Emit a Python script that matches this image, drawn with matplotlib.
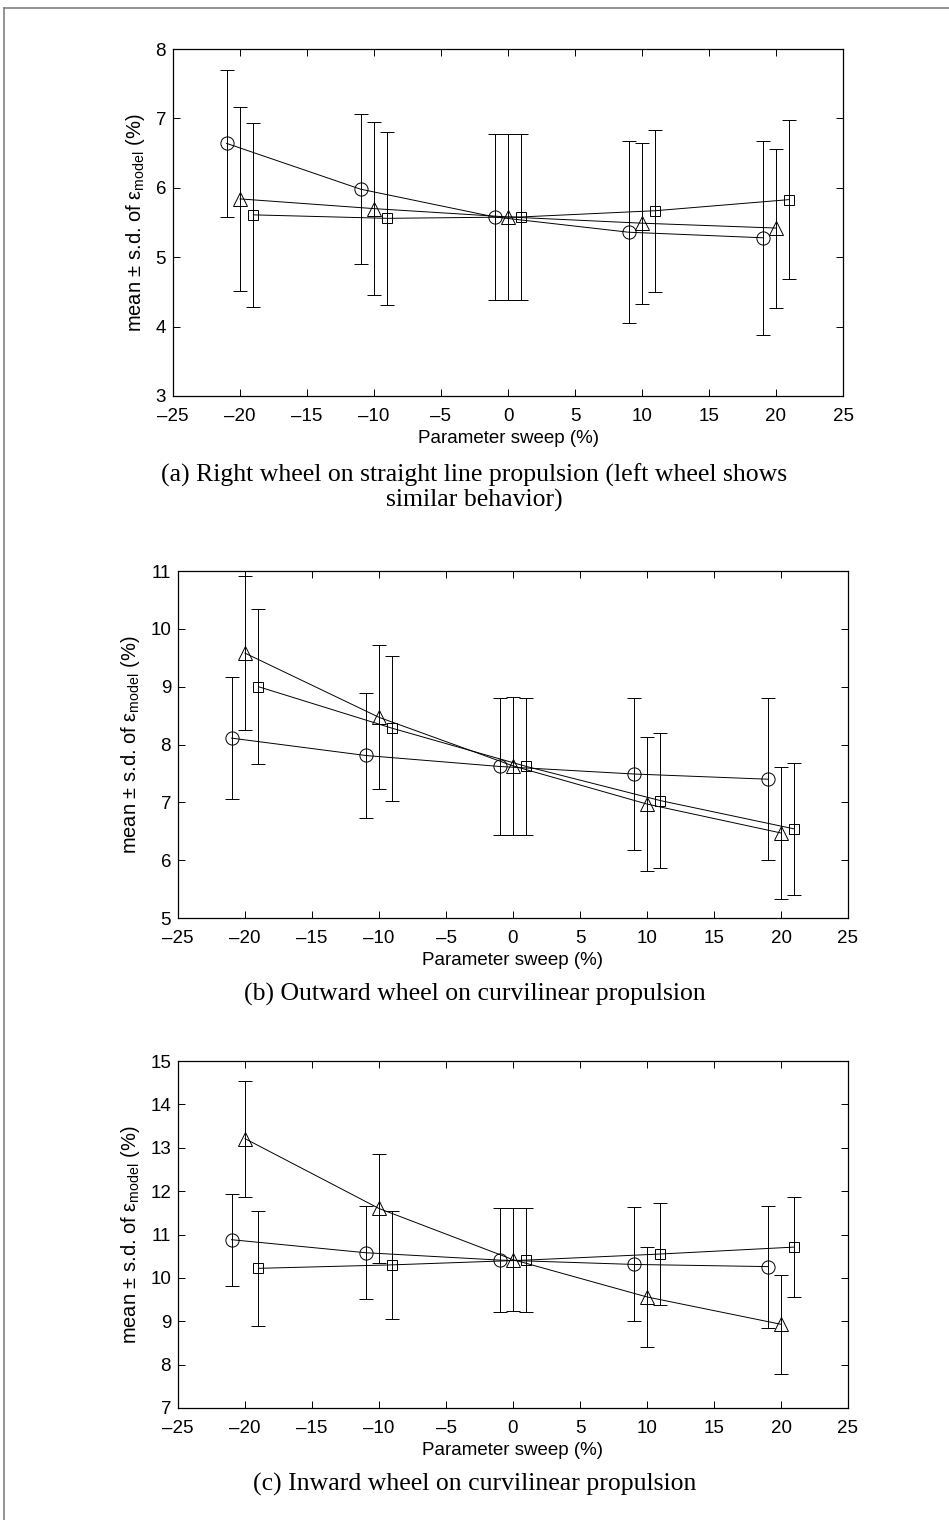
import matplotlib.pyplot as plt
import numpy as np

plt.rcParams['font.family'] = ['Liberation Sans', 'DejaVu Sans']
plt.rcParams['mathtext.fontset'] = 'custom'
plt.rcParams['mathtext.rm'] = 'Liberation Sans'
plt.rcParams['mathtext.it'] = 'Liberation Sans'

# parameter sweep positions (offset by -1 / 0 / +1 for each series)
x_circ = [-21, -11, -1, 9, 19]
x_tri = [-20, -10, 0, 10, 20]
x_sq = [-19, -9, 1, 11, 21]

# (a) right wheel, straight line
a_circ = [6.64, 5.98, 5.58, 5.36, 5.28]
a_circ_sd = [1.06, 1.08, 1.195, 1.31, 1.40]
a_tri = [5.84, 5.70, 5.58, 5.49, 5.42]
a_tri_sd = [1.33, 1.25, 1.195, 1.16, 1.145]
a_sq = [5.61, 5.56, 5.58, 5.67, 5.83]
a_sq_sd = [1.33, 1.245, 1.195, 1.165, 1.145]

# (b) outward wheel, curvilinear
b_circ = [8.11, 7.81, 7.62, 7.49, 7.40]
b_circ_sd = [1.06, 1.08, 1.19, 1.315, 1.40]
b_tri = [9.58, 8.47, 7.63, 6.97, 6.47]
b_tri_sd = [1.33, 1.245, 1.19, 1.165, 1.145]
b_sq = [9.00, 8.28, 7.62, 7.03, 6.54]
b_sq_sd = [1.335, 1.25, 1.19, 1.165, 1.14]

# (c) inward wheel, curvilinear
c_circ = [10.88, 10.58, 10.41, 10.31, 10.26]
c_circ_sd = [1.065, 1.075, 1.195, 1.315, 1.405]
c_tri = [13.21, 11.60, 10.42, 9.56, 8.93]
c_tri_sd = [1.335, 1.25, 1.195, 1.16, 1.14]
c_sq = [10.22, 10.30, 10.41, 10.55, 10.71]
c_sq_sd = [1.33, 1.245, 1.195, 1.165, 1.145]

panels = [
    (a_circ, a_circ_sd, a_tri, a_tri_sd, a_sq, a_sq_sd, (3, 8)),
    (b_circ, b_circ_sd, b_tri, b_tri_sd, b_sq, b_sq_sd, (5, 11)),
    (c_circ, c_circ_sd, c_tri, c_tri_sd, c_sq, c_sq_sd, (7, 15)),
]
captions = [
    '(a) Right wheel on straight line propulsion (left wheel shows\nsimilar behavior)',
    '(b) Outward wheel on curvilinear propulsion',
    '(c) Inward wheel on curvilinear propulsion',
]
# axes boxes in pixels: left, top, right, bottom
boxes = [(173, 49, 843, 396), (178, 571, 848, 918), (178, 1061, 848, 1408)]
caption_y = [488, 994, 1484]

W, H = 949, 1520
fig = plt.figure(figsize=(W / 100, H / 100), dpi=100)

for p, box, cap, cy in zip(panels, boxes, captions, caption_y):
    l, t, r, b = box
    ax = fig.add_axes([l / W, 1 - b / H, (r - l) / W, (b - t) / H])
    series = [(x_circ, p[0], p[1], 'o'), (x_tri, p[2], p[3], '^'), (x_sq, p[4], p[5], 's')]
    for xs, ys, sd, m in series:
        ms = 9.5 if m != 's' else 7.5
        ax.errorbar(xs, ys, yerr=sd, fmt='-' + m, color='black', lw=0.7,
                    elinewidth=0.7, capsize=5, capthick=0.7,
                    mfc='none', mec='black', mew=0.7, ms=ms)
    ax.set_xlim(-25, 25)
    ax.set_ylim(*p[6])
    ax.set_xticks(np.arange(-25, 26, 5))
    ax.set_yticks(np.arange(p[6][0], p[6][1] + 1, 1))
    ax.set_xticklabels([str(t).replace('-', '\u2013') for t in range(-25, 26, 5)])
    ax.tick_params(direction='in', top=True, right=True, length=5, width=0.7,
                   labelsize=13.5)
    ax.tick_params(axis='x', pad=8.5)
    ax.tick_params(axis='y', pad=5)
    for s in ax.spines.values():
        s.set_linewidth(0.9)
    ax.set_xlabel('Parameter sweep (%)', fontsize=13.5, labelpad=3.5)
    ax.set_ylabel(r'mean $\pm$ s.d. of $\epsilon_{\mathrm{model}}$ (%)', fontsize=14.5, labelpad=6)
    fig.text(0.5, 1 - cy / H, cap, ha='center', va='center', fontsize=18.5,
             family='Liberation Serif', linespacing=1.12)

# page frame (top and left edges)
fig.add_artist(plt.Line2D([4 / W, 1], [1 - 8 / H, 1 - 8 / H], color='0.5', lw=1.2))
fig.add_artist(plt.Line2D([4 / W, 4 / W], [0, 1 - 8 / H], color='0.5', lw=1.2))

fig.savefig('out.png', dpi=100)
